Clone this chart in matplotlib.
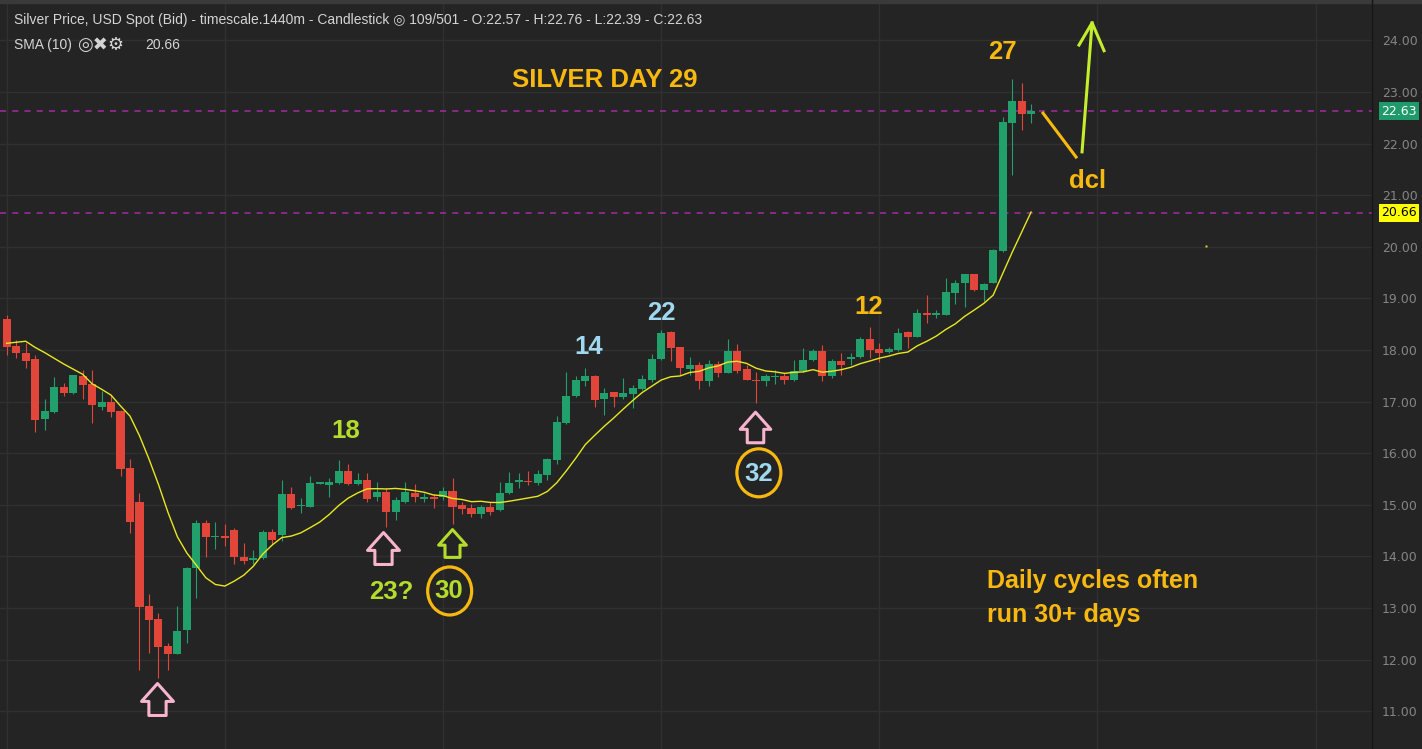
import numpy as np
import pandas as pd
import matplotlib
matplotlib.use("Agg")
import matplotlib.pyplot as plt
import matplotlib.transforms as mtransforms
from matplotlib.path import Path
from matplotlib.patches import Ellipse, Rectangle
from matplotlib.lines import Line2D

# daily candles (109 of them)
opens = [18.61, 18.08, 17.95, 17.82, 16.66, 16.80, 17.28, 17.17, 17.50, 17.34,
         16.90, 17.00, 16.82, 15.71, 15.06, 13.03, 12.78, 12.27, 12.11, 12.57,
         13.77, 14.64, 14.37, 14.40, 14.51, 13.98, 13.93, 13.97, 14.48, 14.42,
         15.21, 14.97, 14.96, 15.41, 15.38, 15.43, 15.66, 15.40, 15.49, 15.15,
         15.25, 14.87, 15.06, 15.23, 15.11, 15.16, 15.15, 15.27, 15.00, 14.93,
         14.82, 14.96, 14.90, 15.23, 15.45, 15.47, 15.43, 15.58, 15.87, 16.59,
         17.10, 17.40, 17.50, 17.06, 17.18, 17.08, 17.15, 17.24, 17.41, 17.82,
         18.34, 18.06, 17.64, 17.71, 17.39, 17.73, 17.56, 17.99, 17.63, 17.41,
         17.39, 17.47, 17.50, 17.41, 17.60, 17.81, 17.99, 17.50, 17.79, 17.83,
         17.86, 18.21, 18.01, 17.96, 18.00, 18.34, 18.26, 18.72, 18.68, 18.68,
         19.11, 19.29, 19.47, 19.16, 19.30, 19.91, 22.39, 22.83, 22.57]
highs = [18.68, 18.19, 18.13, 17.90, 17.06, 17.48, 17.36, 17.52, 17.61, 17.61,
         17.21, 17.13, 16.84, 15.88, 15.22, 13.27, 12.90, 12.32, 13.03, 13.80,
         14.71, 14.71, 14.67, 14.62, 14.56, 14.26, 14.12, 14.52, 14.54, 15.48,
         15.35, 15.13, 15.55, 15.44, 15.51, 15.87, 15.80, 15.62, 15.61, 15.45,
         15.32, 15.16, 15.45, 15.41, 15.23, 15.20, 15.35, 15.51, 15.06, 15.01,
         15.00, 15.06, 15.45, 15.64, 15.61, 15.65, 15.68, 15.90, 16.72, 17.58,
         17.50, 17.65, 17.51, 17.26, 17.19, 17.45, 17.32, 17.51, 17.92, 18.39,
         18.37, 18.06, 17.87, 17.77, 17.81, 17.79, 18.21, 18.12, 17.71, 17.58,
         17.54, 17.62, 17.55, 17.81, 18.03, 18.02, 18.10, 17.83, 17.94, 17.94,
         18.26, 18.45, 18.13, 18.05, 18.42, 18.37, 18.79, 19.07, 18.78, 19.39,
         19.36, 19.48, 19.48, 19.29, 19.95, 22.52, 23.26, 23.17, 22.76]
lows = [17.90, 17.84, 17.65, 16.42, 16.45, 16.78, 17.10, 17.15, 17.05, 16.59,
        16.84, 16.70, 15.55, 14.46, 11.79, 12.12, 11.64, 11.79, 12.11, 12.32,
        13.19, 13.99, 14.15, 14.20, 13.85, 13.85, 13.85, 13.94, 14.25, 14.29,
        14.91, 14.85, 14.95, 15.40, 15.15, 15.41, 15.38, 15.38, 15.06, 15.08,
        14.57, 14.71, 15.04, 15.06, 15.05, 14.93, 15.10, 14.63, 14.82, 14.76,
        14.74, 14.80, 14.88, 15.21, 15.33, 15.38, 15.39, 15.49, 15.80, 16.57,
        17.08, 17.30, 16.89, 16.74, 16.90, 17.06, 16.87, 17.22, 17.38, 17.80,
        17.79, 17.52, 17.52, 17.24, 17.30, 17.48, 17.55, 17.55, 17.41, 16.98,
        17.31, 17.35, 17.35, 17.40, 17.58, 17.79, 17.39, 17.45, 17.52, 17.70,
        17.84, 17.84, 17.77, 17.94, 17.98, 18.03, 18.26, 18.52, 18.62, 18.67,
        18.90, 18.84, 19.15, 18.94, 19.29, 19.89, 21.39, 22.26, 22.39]
closes = [18.06, 17.94, 17.79, 16.64, 16.82, 17.28, 17.17, 17.51, 17.32, 16.93,
          17.00, 16.80, 15.69, 14.67, 13.01, 12.77, 12.25, 12.11, 12.56, 13.78,
          14.64, 14.37, 14.40, 14.36, 13.98, 13.92, 13.97, 14.48, 14.32, 15.21,
          14.93, 14.99, 15.42, 15.43, 15.45, 15.66, 15.40, 15.49, 15.11, 15.25,
          14.87, 15.09, 15.25, 15.16, 15.16, 15.12, 15.27, 14.95, 14.91, 14.82,
          14.95, 14.87, 15.23, 15.42, 15.47, 15.44, 15.60, 15.88, 16.61, 17.11,
          17.41, 17.50, 17.04, 17.16, 17.08, 17.16, 17.26, 17.43, 17.82, 18.32,
          18.04, 17.66, 17.71, 17.39, 17.73, 17.56, 17.99, 17.60, 17.41, 17.39,
          17.50, 17.49, 17.41, 17.60, 17.81, 17.99, 17.50, 17.79, 17.71, 17.85,
          18.21, 18.00, 17.95, 18.01, 18.32, 18.26, 18.71, 18.67, 18.71, 19.13,
          19.30, 19.47, 19.16, 19.28, 19.94, 22.42, 22.83, 22.58, 22.63]
# SMA(10) on the first 9 candles uses closes before the visible window
sma_head = [18.13, 18.15, 18.17, 18.05, 17.95, 17.84, 17.73, 17.63, 17.53]

last_price = 22.63
sma_last = 20.66
price_ticks = [11, 12, 13, 14, 15, 16, 17, 18, 19, 20, 21, 22, 23, 24]
month_lines = [0, 23, 46, 69, 92, 115, 138]

# chart annotations (candle index, price)
notes = [("27", 105.0, 23.78, "orange"), ("SILVER DAY 29", 63.0, 23.23, "orange"),
         ("dcl", 113.9, 21.28, "orange"), ("12", 90.9, 18.83, "orange"),
         ("22", 69.0, 18.72, "blue"), ("14", 61.4, 18.06, "blue"),
         ("18", 35.7, 16.43, "lime"), ("23?", 40.5, 13.31, "lime"),
         ("30", 46.6, 13.33, "lime"), ("32", 79.3, 15.60, "blue")]
circles = [(46.7, 13.33), (79.3, 15.62)]
up_arrows = [(15.8, 11.23, "pink", 23), (39.7, 14.16, "pink", 23),
             (46.98, 14.26, "lime", 20), (78.9, 16.50, "pink", 22)]
cycle_text = ["Daily cycles often", "run 30+ days"]

colors = {"orange": "#f7b90f", "blue": "#a0d8ef", "lime": "#b4dc2c", "pink": "#f7b4cc"}
bg = "#242424"
up_col = "#22a06b"
dn_col = "#e2463b"
narrow = ["Liberation Sans Narrow", "Liberation Sans", "DejaVu Sans"]

W, H = 1422, 749
fig = plt.figure(figsize=(W / 100, H / 100), dpi=100, facecolor=bg)
ax = fig.add_axes([0, 0, 1372 / W, 1])
ax.set_facecolor(bg)

o = np.array(opens)
h = np.array(highs)
l = np.array(lows)
c = np.array(closes)
x = np.arange(len(c))
rising = c >= o
col = np.where(rising, up_col, dn_col)

# grid
for p in price_ticks:
    ax.axhline(p, color="#303030", lw=1, zorder=0)
for m in month_lines:
    ax.axvline(m, color="#303030", lw=1, zorder=0)

ax.vlines(x, l, h, colors=col, lw=0.8, zorder=2)
body_low = np.minimum(o, c)
body_h = np.maximum(np.abs(c - o), 0.03)
ax.bar(x, body_h, bottom=body_low, width=0.85, color=col, zorder=3)

sma = pd.Series(closes).rolling(10).mean().to_numpy()
sma[:9] = sma_head
ax.plot(x, sma, color="#e8e820", lw=1.0, zorder=4)

for p in [last_price, sma_last]:
    ax.axhline(p, color="#a52aa5", lw=1.1, ls=(0, (4, 4)), zorder=1, clip_on=False)

ax.set_xlim(-0.706, 143.94)
ax.set_ylim(18 - 399 / 51.6, 18 + 350 / 51.6)

ax.yaxis.tick_right()
ax.set_yticks(price_ticks)
ax.set_yticklabels([f"{p:.2f}" for p in price_ticks])
ax.tick_params(axis="y", length=0, pad=7, labelcolor="#858585", labelsize=9)
ax.set_xticks([])
for s in ax.spines.values():
    s.set_visible(False)

# half-visible edge labels, cut by the frame as in the source chart
ytrans = mtransforms.blended_transform_factory(ax.transAxes, ax.transData)
for p in [10, 25]:
    ax.text(1.0 + 10 / 1372, p, f"{p:.2f}", transform=ytrans, ha="left", va="center",
            color="#858585", fontsize=9, clip_on=False)

# price tags
ax.text(1399 / 1372, last_price, f"{last_price:.2f}", transform=ytrans, ha="center",
        va="center", color="white", fontsize=9, clip_on=False,
        bbox=dict(boxstyle="square,pad=0.2", fc="#1f9a6a", ec="none"))
ax.text(1399 / 1372, sma_last, f"{sma_last:.2f}", transform=ytrans, ha="center",
        va="center", color="black", fontsize=9, clip_on=False,
        bbox=dict(boxstyle="square,pad=0.2", fc="#ffff00", ec="none"))

# annotations
for txt, xi, yi, cn in notes:
    ax.text(xi, yi, txt, color=colors[cn], fontsize=18.5, fontweight="bold",
            family=narrow, ha="center", va="center", zorder=6)
ax.text(103.35, 13.52, cycle_text[0], color=colors["orange"], fontsize=18,
        fontweight="bold", family=narrow, ha="left", va="center")
ax.text(103.35, 12.86, cycle_text[1], color=colors["orange"], fontsize=18,
        fontweight="bold", family=narrow, ha="left", va="center")

for cx, cy in circles:
    ax.add_patch(Ellipse((cx, cy), 44 / 9.485, 48 / 51.6, fc="none",
                         ec=colors["orange"], lw=2.3, zorder=5))

arrow_path = Path([(0, 0.5), (0.5, -0.06), (0.27, -0.06), (0.27, -0.5),
                   (-0.27, -0.5), (-0.27, -0.06), (-0.5, -0.06), (0, 0.5)],
                  [Path.MOVETO] + [Path.LINETO] * 6 + [Path.CLOSEPOLY])
for ax_i, ay, cn, ms in up_arrows:
    ax.plot(ax_i, ay, marker=arrow_path, ms=ms, mfc="none", mec=colors[cn],
            mew=2.2, zorder=6)

# dcl pointer and big up arrow
ax.plot([109.26, 112.74], [22.59, 21.74], color=colors["orange"], lw=2.2)
lime = "#c4ee2c"
ax.plot([113.37, 114.43], [21.84, 24.34], color=lime, lw=2.2)
ax.plot([113.05, 114.43, 115.69], [23.91, 24.34, 23.80], color=lime, lw=2.2)
ax.plot([126.45], [20.02], marker="s", ms=2, color="#d8d820", mec="none")

# header
hcol = "#d4d4d4"
fig.text(14 / W, 1 - 20 / H,
         "Silver Price, USD Spot (Bid) - timescale.1440m - Candlestick \u25ce 109/501 - "
         "O:22.57 - H:22.76 - L:22.39 - C:22.63",
         color=hcol, fontsize=10, family=narrow, va="center")
fig.text(14 / W, 1 - 45 / H, "SMA (10)", color=hcol, fontsize=10, family=narrow,
         va="center")
fig.text(77 / W, 1 - 45 / H, "\u25ce\u2716\u2699", color=hcol, fontsize=13,
         family=["DejaVu Sans"], va="center")
fig.text(145 / W, 1 - 45 / H, "20.66", color=hcol, fontsize=10, family=narrow,
         va="center")

fig.add_artist(Rectangle((0, 1 - 3 / H), 1, 3 / H, transform=fig.transFigure,
                         color="#3a3a3a"))
fig.add_artist(Line2D([1372 / W, 1372 / W], [0, 1], transform=fig.transFigure,
                      color="#161616", lw=1))

fig.savefig("out.png", dpi=100, facecolor=bg)
